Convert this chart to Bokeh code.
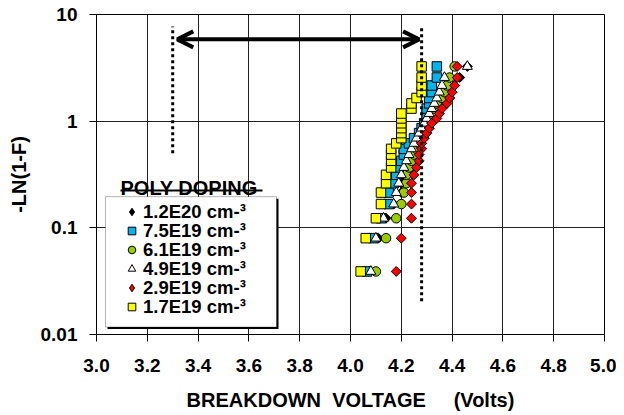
import numpy as np
from bokeh.plotting import figure
from bokeh.models import (FixedTicker, PrintfTickFormatter, Legend, LegendItem, Label,
                          BoxAnnotation, Arrow, OpenHead, Range1d)
from bokeh.embed import file_html
from bokeh.resources import INLINE

# ---------------- data ----------------
x_ticks = [3.0, 3.2, 3.4, 3.6, 3.8, 4.0, 4.2, 4.4, 4.6, 4.8, 5.0]
y_ticks = [0.01, 0.1, 1, 10]
y_tick_labels = ["0.01", "0.1", "1", "10"]

# -LN(1-F) values of the 25 ranked points
weibit = [0.039, 0.080, 0.123, 0.167, 0.214, 0.262, 0.314, 0.368, 0.425, 0.486,
          0.550, 0.619, 0.693, 0.773, 0.860, 0.956, 1.061, 1.179, 1.312, 1.466,
          1.649, 1.872, 2.160, 2.565, 3.258]

series_labels = ["1.2E20 cm-³", "7.5E19 cm-³", "6.1E19 cm-³",
                 "4.9E19 cm-³", "2.9E19 cm-³", "1.7E19 cm-³"]

v_1_2e20 = [4.07, 4.11, 4.14, 4.17, 4.20, 4.20, 4.20, 4.23, 4.24, 4.26, 4.27, 4.28, 4.29,
            4.30, 4.31, 4.32, 4.33, 4.34, 4.35, 4.37, 4.39, 4.40, 4.41, 4.43, 4.46]
v_7_5e19 = [4.065, 4.09, 4.12, 4.15, 4.15, 4.17, 4.18, 4.19, 4.20, 4.21, 4.21, 4.23, 4.25,
            4.27, 4.28, 4.29, 4.30, 4.30, 4.30, 4.31, 4.31, 4.32, 4.32, 4.34, 4.34]
v_6_1e19 = [4.10, 4.14, 4.18, 4.20, 4.21, 4.22, 4.22, 4.23, 4.24, 4.25, 4.26, 4.27, 4.28,
            4.28, 4.29, 4.30, 4.31, 4.32, 4.33, 4.34, 4.36, 4.37, 4.38, 4.39, 4.41]
v_4_9e19 = [4.08, 4.10, 4.13, 4.17, 4.18, 4.19, 4.20, 4.21, 4.22, 4.23, 4.24, 4.25, 4.26,
            4.27, 4.28, 4.29, 4.30, 4.31, 4.32, 4.33, 4.34, 4.35, 4.36, 4.37, 4.46]
v_2_9e19 = [4.18, 4.20, 4.24, 4.24, 4.24, 4.24, 4.25, 4.26, 4.27, 4.27, 4.28, 4.28, 4.29,
            4.30, 4.31, 4.32, 4.34, 4.35, 4.36, 4.38, 4.39, 4.40, 4.41, 4.42, 4.42]
v_1_7e19 = [4.04, 4.06, 4.10, 4.12, 4.12, 4.14, 4.14, 4.16, 4.16, 4.16, 4.16, 4.18, 4.20,
            4.20, 4.20, 4.20, 4.20, 4.20, 4.24, 4.24, 4.26, 4.28, 4.28, 4.28, 4.28]

# reference lines (dotted) and the double arrow between them
ref_line_x = [3.30, 4.28]
ref_line_y0 = [0.5, 0.0205]
ref_line_y1 = [7.7, 7.7]
arrow_x = [3.318, 4.27]
arrow_y = 5.85

FONT = "Liberation Sans"
NB = "\u00a0"

p = figure(width=616, height=413, output_backend="svg", toolbar_location=None,
           x_range=Range1d(3.0, 5.0), y_range=Range1d(0.01, 10), y_axis_type="log",
           min_border_left=96, min_border_right=12, min_border_top=14, min_border_bottom=78)
p.background_fill_color = "white"
p.border_fill_color = "white"
p.outline_line_color = "black"

# axes
p.xaxis.ticker = FixedTicker(ticks=x_ticks)
p.xaxis.formatter = PrintfTickFormatter(format="%.1f")
p.yaxis.ticker = FixedTicker(ticks=y_ticks)
p.yaxis.major_label_overrides = {t: l for t, l in zip(y_ticks, y_tick_labels)}
for ax in (p.xaxis[0], p.yaxis[0]):
    ax.major_label_text_font = FONT
    ax.major_label_text_font_style = "bold"
    ax.major_label_text_font_size = "19px"
    ax.major_label_text_color = "black"
    ax.axis_label_text_font = FONT
    ax.axis_label_text_font_style = "bold"
    ax.axis_label_text_font_size = "20px"
    ax.axis_label_text_color = "black"
    ax.major_tick_out = 7
    ax.major_tick_in = 0
    ax.minor_tick_line_color = None
    ax.axis_line_color = "black"
    ax.major_tick_line_color = "black"
p.xaxis.axis_label = "BREAKDOWN" + NB * 2 + "VOLTAGE" + NB * 5 + "(Volts)"
p.yaxis.axis_label = "-LN(1-F)"
p.xaxis.major_label_standoff = 17
p.xaxis.axis_label_standoff = 14
p.yaxis.major_label_standoff = 12
p.yaxis.axis_label_standoff = 8

p.grid.grid_line_color = "#222222"
p.grid.grid_line_width = 1
p.ygrid.minor_grid_line_color = None

# legend box (drawn as annotation, with shadow)
p.add_layout(BoxAnnotation(left=3.0433, right=3.7166, top=0.1878, bottom=0.01126,
                           fill_color="black", fill_alpha=1, line_color=None))
p.add_layout(BoxAnnotation(left=3.0354, right=3.7087, top=0.196, bottom=0.01175,
                           fill_color="white", fill_alpha=1, line_color="black", line_width=1))

# legend title with underline
p.add_layout(Label(x=3.0945, y=0.238, text="POLY DOPING", text_font=FONT,
                   text_font_style="bold", text_font_size="20px", text_color="black",
                   text_baseline="alphabetic"))
p.add_layout(BoxAnnotation(left=3.0945, right=3.6535, top=0.2291, bottom=0.2195,
                           fill_color="black", fill_alpha=1, line_color=None))

# series
styles = [
    dict(marker="square", angle=np.pi / 4, size=7, fill_color="black", line_color="black"),
    dict(marker="square", angle=0, size=9.5, fill_color="#00B4F0", line_color="black"),
    dict(marker="circle", angle=0, size=9.5, fill_color="#99CC00", line_color="black"),
    dict(marker="triangle", angle=0, size=10, fill_color="white", line_color="black"),
    dict(marker="square", angle=np.pi / 4, size=7, fill_color="#FF0000", line_color="black"),
    dict(marker="square", angle=0, size=9.5, fill_color="#FFFF00", line_color="black"),
]
volts = [v_1_2e20, v_7_5e19, v_6_1e19, v_4_9e19, v_2_9e19, v_1_7e19]
items = []
for lab, v, st in zip(series_labels, volts, styles):
    swatch = None
    if st["angle"] != 0:
        # upright diamond drawn underneath (hidden by the rotated square); used as legend swatch
        swatch = p.scatter(x=v, y=weibit, marker="diamond", size=6,
                           fill_color=st["fill_color"], line_color="black", line_width=1)
    r = p.scatter(x=v, y=weibit, line_width=1, **st)
    items.append(LegendItem(label=lab, renderers=[swatch if swatch is not None else r]))

# dotted reference lines and arrow
p.segment(x0=ref_line_x, y0=ref_line_y0, x1=ref_line_x, y1=ref_line_y1,
          line_color="black", line_width=3, line_dash="3 3")
p.add_layout(Arrow(x_start=arrow_x[0], y_start=arrow_y, x_end=arrow_x[1], y_end=arrow_y,
                   line_width=4, line_color="black",
                   start=OpenHead(size=16, line_width=4, line_color="black"),
                   end=OpenHead(size=16, line_width=4, line_color="black")))

# one single-row legend per series, so that the rows can sit 19px apart
n_items = len(items)
for k, it in enumerate(items):
    lg = Legend(items=[it], location=(25, 16.5 + 19 * (n_items - 1 - k)),
                border_line_color=None, background_fill_alpha=0, padding=0, margin=0,
                glyph_width=21, glyph_height=19, label_height=19, spacing=0,
                label_standoff=1, label_text_font=FONT, label_text_font_style="bold",
                label_text_font_size="18.5px", label_text_color="black")
    p.add_layout(lg, "center")

open("out.html", "w").write(file_html(p, INLINE))
